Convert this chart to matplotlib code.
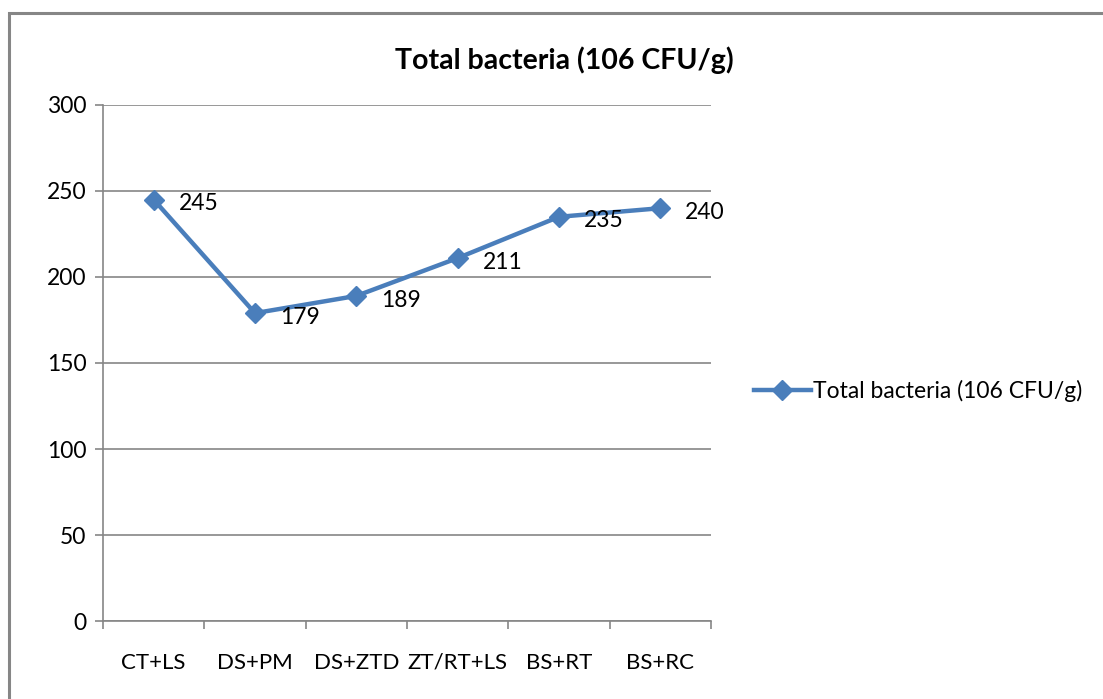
import numpy as np
import matplotlib
matplotlib.use("Agg")
import matplotlib.pyplot as plt
from matplotlib.patches import Rectangle

plt.rcParams['font.family'] = ['Lato', 'DejaVu Sans']

categories = ['CT+LS', 'DS+PM', 'DS+ZTD', 'ZT/RT+LS', 'BS+RT', 'BS+RC']
values = [245, 179, 189, 211, 235, 240]
series_name = 'Total bacteria (106 CFU/g)'
yticks = [0, 50, 100, 150, 200, 250, 300]

blue = '#4A7EBB'
grey = '#868686'

fig = plt.figure(figsize=(11.03, 6.99), dpi=100)
ax = fig.add_axes([103/1103, 78/699, 608/1103, 516/699])

x = np.arange(len(categories))
line, = ax.plot(x, values, color=blue, lw=3.2, marker='D', markersize=10,
                label=series_name, zorder=3)
for xi, v in zip(x, values):
    ax.annotate(str(v), (xi, v), xytext=(18, -3), textcoords='offset points',
                ha='left', va='center', fontsize=16.5)

ax.set_xlim(-0.5, len(categories) - 0.5)
ax.set_ylim(0, 300)
ax.set_yticks(yticks)
ax.yaxis.grid(True, color=grey, lw=1.2)
ax.set_axisbelow(True)

ax.set_xticks(x)
ax.set_xticklabels(categories, fontsize=16)
ax.tick_params(axis='x', which='major', length=0, pad=23)
ax.set_xticks(np.arange(-0.5, len(categories)), minor=True)
ax.tick_params(axis='x', which='minor', length=6, width=1.2, color=grey, direction='out')
ax.tick_params(axis='y', length=6, width=1.2, color=grey, labelsize=16.5, pad=6)

for s in ['top', 'right']:
    ax.spines[s].set_visible(False)
for s in ['left', 'bottom']:
    ax.spines[s].set_color(grey)
    ax.spines[s].set_linewidth(1.2)

ax.set_title(series_name, fontsize=20.5, fontweight='bold', pad=26,
             x=(564 - 103) / 608)

fig.legend(handles=[line], loc='center left', bbox_to_anchor=(733/1103, 1 - 391/699),
           frameon=False, fontsize=16.5, handlelength=2.5, handletextpad=0.1)

fig.patches.append(Rectangle((9/1103, -0.1), 1.2, 1.1 - 13/699, transform=fig.transFigure,
                             fill=False, edgecolor=grey, lw=2.2))

fig.savefig('out.png', dpi=100)
